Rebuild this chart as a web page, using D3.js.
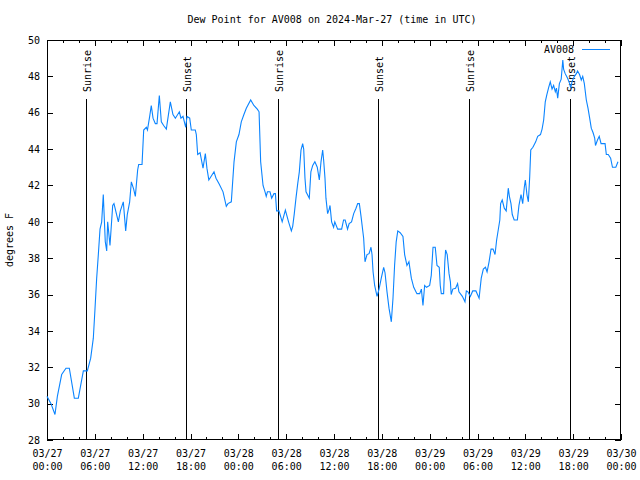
<!DOCTYPE html>
<html>
<head>
<meta charset="utf-8">
<script src="https://cdn.jsdelivr.net/npm/d3@7"></script>
<style>
html,body{margin:0;padding:0;background:#fff;}
svg{display:block;font-family:"DejaVu Sans Mono",monospace;font-size:10px;}
</style>
</head>
<body>
<svg id="chart" width="640" height="480"></svg>
<script>
// ---- data (hours after 2024-03-27 00:00 UTC, dew point in °F) ----
const hours = [0,0.5,1.0,1.3,1.84,2.38,2.8,3.43,3.93,4.56,5.06,5.48,5.81,6.02,6.23,6.44,6.65,6.86,7.06,7.31,7.49,7.61,7.9,8.24,8.4,8.95,9.2,9.57,9.87,10.07,10.37,10.58,10.87,11.08,11.37,11.5,11.92,12.13,12.46,12.6,12.88,13.08,13.3,13.59,13.8,14.09,14.34,14.63,14.97,15.1,15.47,15.8,16.1,16.6,16.8,17.06,17.4,17.56,17.9,18.1,18.6,18.73,18.9,19.2,19.57,19.86,20.06,20.3,20.95,21.2,21.58,22.08,22.49,22.7,23.12,23.46,23.75,24.08,24.37,24.7,25.0,25.55,25.95,26.38,26.6,26.8,27.1,27.35,27.5,27.65,27.97,28.18,28.47,28.65,28.8,29.1,29.3,29.5,29.9,30.3,30.65,30.82,31.02,31.23,31.45,31.65,31.86,32.07,32.2,32.36,32.49,32.9,33.1,33.33,33.6,33.9,34.16,34.37,34.58,34.7,34.87,34.99,35.2,35.4,35.5,35.7,35.95,36.1,36.46,36.96,37.2,37.4,37.7,37.9,38.2,38.47,38.76,38.97,39.18,39.39,39.72,39.89,40.14,40.4,40.64,40.77,40.9,41.1,41.4,41.65,41.93,42.23,42.4,42.65,42.9,43.19,43.4,43.6,43.8,44.0,44.3,44.65,44.86,45.15,45.4,45.7,46.0,46.4,46.75,46.96,47.16,47.37,47.6,48.0,48.2,48.42,48.7,48.92,49.2,49.33,49.46,49.75,49.9,50.0,50.2,50.43,50.6,50.7,50.9,51.25,51.5,51.67,52.1,52.43,52.6,52.8,53.1,53.4,53.8,54.2,54.47,54.73,55.0,55.2,55.45,55.7,55.95,56.2,56.4,56.6,56.8,56.9,57.1,57.36,57.6,57.86,58.0,58.2,58.36,58.6,59.0,59.2,59.46,59.67,59.87,60.0,60.2,60.38,60.55,60.68,60.95,61.3,61.55,61.9,62.1,62.3,62.5,62.7,62.93,63.13,63.35,63.55,63.76,63.9,64.06,64.27,64.5,64.7,64.8,65.0,65.3,65.56,65.7,65.85,66.15,66.4,66.55,66.8,67.02,67.2,67.4,67.65,67.86,68.07,68.27,68.5,68.7,68.8,69.05,69.27,69.5,70.0,70.16,70.4,70.7,70.93,71.35,71.62];
const dewF = [30.4,30.0,29.4,30.4,31.6,31.95,31.95,30.3,30.3,31.8,31.8,32.5,33.6,35.2,36.9,38.2,39.6,40.0,41.5,38.9,38.4,40.0,38.7,40.9,41.0,40.0,40.6,41.1,39.5,40.4,41.1,42.2,41.8,41.4,42.85,43.15,43.15,45.05,45.2,45.05,45.8,46.4,45.7,45.4,45.4,46.95,45.5,45.3,45.1,45.5,46.6,45.9,45.7,46.05,45.7,45.8,45.2,45.8,45.7,45.05,45.05,44.8,43.7,43.8,42.95,43.75,42.95,42.3,42.75,42.4,42.1,41.65,40.85,41.0,41.1,43.3,44.4,44.8,45.5,45.9,46.25,46.7,46.4,46.2,46.05,43.3,42.0,41.65,41.4,41.65,41.65,41.3,41.55,41.55,40.6,40.6,40.3,40.0,40.65,40.0,39.5,39.75,40.45,41.3,42.1,42.75,43.95,44.3,44.0,42.4,41.65,41.3,42.75,43.1,43.3,43.0,42.3,43.3,43.95,43.4,42.4,41.3,40.45,40.7,40.9,40.0,39.7,40.0,39.6,39.6,40.1,40.1,39.6,39.9,40.0,40.45,40.75,41.0,41.0,40.3,39.1,37.8,38.2,38.25,38.6,38.2,37.25,36.5,35.9,36.3,36.9,37.5,37.2,36.15,35.25,34.5,35.8,37.6,38.9,39.5,39.4,39.2,38.2,37.6,37.8,36.9,36.4,36.05,36.05,36.3,35.4,36.5,36.4,36.5,37.05,38.6,38.6,37.6,37.5,36.5,36.05,36.05,37.8,38.45,38.2,37.15,36.7,36.0,36.3,36.35,36.6,36.15,35.9,35.6,36.2,36.15,35.9,36.2,36.2,35.8,36.9,37.4,37.5,37.25,37.8,38.5,38.5,38.2,39.0,39.55,40.1,41.0,41.2,40.75,40.6,41.85,41.4,41.0,40.4,40.1,40.1,40.9,41.5,41.0,41.9,42.3,41.5,41.1,42.5,43.95,44.1,44.4,44.7,44.8,45.1,45.6,46.6,47.0,47.4,47.7,47.3,47.5,47.15,47.35,46.8,47.6,47.85,48.9,48.4,48.15,47.9,47.6,47.35,47.7,48.0,48.15,48.3,48.1,47.8,48.0,47.6,46.7,46.25,45.7,45.15,44.9,44.6,44.2,44.5,44.7,44.3,44.3,43.7,43.7,43.5,43.0,43.0,43.3];
const sunEvents = ["Sunrise","Sunset","Sunrise","Sunset","Sunrise","Sunset"];
const sunHours  = [4.93,17.47,29.01,41.56,52.97,65.64];
const yTicks = [28,30,32,34,36,38,40,42,44,46,48,50];
const majorTickHours = [0,6,12,18,24,30,36,42,48,54,60,66,72];
const seriesName = "AV008";
const titleText = "Dew Point for AV008 on 2024-Mar-27 (time in UTC)";
const yLabel = "degrees F";

// ---- layout ----
const svg = d3.select("#chart");
const L = 47, R = 621, T = 40, B = 440;
const t0 = Date.UTC(2024, 2, 27, 0, 0);
const toDate = h => new Date(t0 + h * 3600e3);

const x = d3.scaleUtc().domain([toDate(0), toDate(72)]).range([L, R]);
const y = d3.scaleLinear().domain([28, 50]).range([B, T]);

const majors = majorTickHours.map(toDate);
const minors = d3.range(0, 73, 2).filter(h => h % 6 !== 0).map(toDate);
const fmtD = d3.utcFormat("%m/%d"), fmtT = d3.utcFormat("%H:%M");

// bottom axis (major, labelled)
const gxb = svg.append("g").attr("transform", `translate(0,${B})`)
  .call(d3.axisBottom(x).tickValues(majors).tickSizeInner(-6).tickSizeOuter(0).tickPadding(0).tickFormat(""));
gxb.selectAll(".tick").each(function(d){
  const t = d3.select(this).append("text").attr("fill","#000").attr("text-anchor","middle")
    .style("font-family",'"DejaVu Sans Mono",monospace').style("font-size","10px");
  t.append("tspan").attr("x",0).attr("y",17).text(fmtD(d));
  t.append("tspan").attr("x",0).attr("y",29.5).text(fmtT(d));
});
svg.append("g").attr("transform", `translate(0,${B})`)
  .call(d3.axisBottom(x).tickValues(minors).tickSizeInner(-3).tickSizeOuter(0).tickFormat(""));
// top axis (mirror)
svg.append("g").attr("transform", `translate(0,${T})`)
  .call(d3.axisTop(x).tickValues(majors).tickSizeInner(-6).tickSizeOuter(0).tickFormat(""));
svg.append("g").attr("transform", `translate(0,${T})`)
  .call(d3.axisTop(x).tickValues(minors).tickSizeInner(-3).tickSizeOuter(0).tickFormat(""));
// left / right axes
const gyl = svg.append("g").attr("transform", `translate(${L},0)`)
  .call(d3.axisLeft(y).tickValues(yTicks).tickSizeInner(-6).tickSizeOuter(0).tickPadding(7).tickFormat(d3.format("d")));
svg.append("g").attr("transform", `translate(${R},0)`)
  .call(d3.axisRight(y).tickValues(yTicks).tickSizeInner(-6).tickSizeOuter(0).tickFormat(""));

svg.selectAll(".domain").remove();
svg.selectAll(".tick line").attr("stroke","#000").attr("shape-rendering","crispEdges");
gyl.selectAll("text").attr("fill","#000").style("font-family",'"DejaVu Sans Mono",monospace').style("font-size","10px");

// frame
svg.append("rect").attr("x",L+0.5).attr("y",T+0.5).attr("width",R-L-1).attr("height",B-T-1)
  .attr("fill","none").attr("stroke","#000").attr("shape-rendering","crispEdges");

// sun lines
const sg = svg.append("g");
sunHours.forEach((h,i)=>{
  const sx = Math.round(x(toDate(h))) + 0.5;
  sg.append("line").attr("x1",sx).attr("x2",sx).attr("y1",99).attr("y2",B)
    .attr("stroke","#000").attr("stroke-width",1).attr("shape-rendering","crispEdges");
  sg.append("text").attr("transform",`translate(${sx+4.5},92) rotate(-90)`)
    .attr("text-anchor","start").attr("fill","#000").text(sunEvents[i]);
});

// data line
const data = hours.map((h,i)=>({t:toDate(h), v:dewF[i]}));
svg.append("path").datum(data)
  .attr("fill","none").attr("stroke","#0a84ff").attr("stroke-width",1.1)
  .attr("d", d3.line().x(d=>x(d.t)).y(d=>y(d.v)));

// title & labels
svg.append("text").attr("x",332).attr("y",23).attr("text-anchor","middle").attr("fill","#000").text(titleText);
svg.append("text").attr("transform","translate(13,240) rotate(-90)").attr("text-anchor","middle").attr("fill","#000").text(yLabel);

// legend
svg.append("text").attr("x",574).attr("y",52.5).attr("text-anchor","end").attr("fill","#000").text(seriesName);
svg.append("line").attr("x1",582).attr("x2",610).attr("y1",49.5).attr("y2",49.5)
  .attr("stroke","#0a84ff").attr("stroke-width",1);
</script>
</body>
</html>
